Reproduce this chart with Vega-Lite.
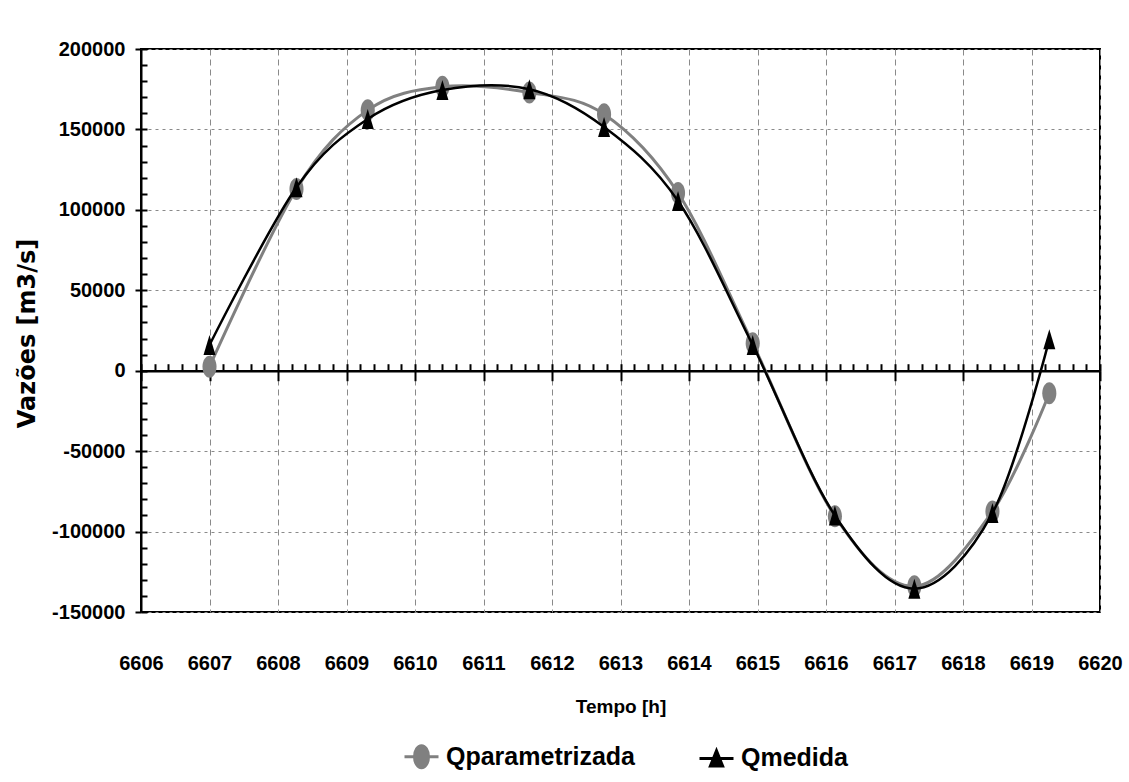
{
  "$schema": "https://vega.github.io/schema/vega-lite/v6.json",
  "width": 959,
  "height": 563,
  "autosize": {"type": "none"},
  "padding": {"left": 141, "top": 49, "right": 29, "bottom": 170},
  "background": "white",
  "config": {
    "view": {"stroke": "black", "strokeWidth": 2},
    "font": "Liberation Sans",
    "axis": {"labelColor": "black", "titleColor": "black"}
  },
  "data": {
    "values": [
      {"t": 6607.00, "q": 2500, "serie": "Qparametrizada"},
      {"t": 6608.27, "q": 113000, "serie": "Qparametrizada"},
      {"t": 6609.31, "q": 162000, "serie": "Qparametrizada"},
      {"t": 6610.40, "q": 176500, "serie": "Qparametrizada"},
      {"t": 6611.67, "q": 173000, "serie": "Qparametrizada"},
      {"t": 6612.76, "q": 159500, "serie": "Qparametrizada"},
      {"t": 6613.84, "q": 110500, "serie": "Qparametrizada"},
      {"t": 6614.93, "q": 17000, "serie": "Qparametrizada"},
      {"t": 6616.13, "q": -90500, "serie": "Qparametrizada"},
      {"t": 6617.29, "q": -134000, "serie": "Qparametrizada"},
      {"t": 6618.43, "q": -87500, "serie": "Qparametrizada"},
      {"t": 6619.26, "q": -14000, "serie": "Qparametrizada"},
      {"t": 6607.00, "q": 16000, "serie": "Qmedida"},
      {"t": 6608.27, "q": 114000, "serie": "Qmedida"},
      {"t": 6609.31, "q": 156500, "serie": "Qmedida"},
      {"t": 6610.40, "q": 174500, "serie": "Qmedida"},
      {"t": 6611.67, "q": 175000, "serie": "Qmedida"},
      {"t": 6612.76, "q": 151500, "serie": "Qmedida"},
      {"t": 6613.84, "q": 105500, "serie": "Qmedida"},
      {"t": 6614.93, "q": 16000, "serie": "Qmedida"},
      {"t": 6616.13, "q": -90000, "serie": "Qmedida"},
      {"t": 6617.29, "q": -135500, "serie": "Qmedida"},
      {"t": 6618.43, "q": -88500, "serie": "Qmedida"},
      {"t": 6619.26, "q": 19500, "serie": "Qmedida"}
    ]
  },
  "resolve": {"axis": {"x": "independent", "y": "independent"}},
  "layer": [
    {
      "transform": [{"filter": "datum.serie === 'Qparametrizada'"}],
      "mark": {"type": "line", "interpolate": "cardinal", "tension": 0, "strokeWidth": 3},
      "encoding": {
        "x": {
          "field": "t", "type": "quantitative",
          "scale": {"domain": [6606, 6620], "nice": false, "zero": false},
          "axis": {
            "orient": "bottom", "title": "Tempo [h]",
            "values": [6606, 6607, 6608, 6609, 6610, 6611, 6612, 6613, 6614, 6615, 6616, 6617, 6618, 6619, 6620],
            "labelExpr": "'' + datum.value", "ticks": false, "domain": false,
            "labelFont": "Liberation Sans", "labelFontWeight": "bold", "labelFontSize": 20,
            "labelPadding": 41, "labelFlush": false,
            "titleFont": "Liberation Sans", "titleFontWeight": "bold", "titleFontSize": 19,
            "titlePadding": 24,
            "grid": true, "gridColor": "#8a8a8a", "gridDash": [6, 4], "gridWidth": 1, "gridOpacity": 1
          }
        },
        "y": {
          "field": "q", "type": "quantitative",
          "scale": {"domain": [-150000, 200000], "nice": false, "zero": false},
          "axis": {
            "orient": "left", "title": "Vazões [m3/s]",
            "values": [-150000, -100000, -50000, 0, 50000, 100000, 150000, 200000],
            "labelExpr": "'' + datum.value",
            "domain": true, "domainColor": "black", "domainWidth": 2,
            "ticks": true, "tickSize": 6, "tickWidth": 2, "tickColor": "black",
            "labelFont": "Liberation Sans", "labelFontWeight": "bold", "labelFontSize": 20,
            "labelPadding": 10,
            "titleFont": "DejaVu Sans", "titleFontWeight": "bold", "titleFontSize": 24,
            "titleX": -114, "titleY": 284, "titleAngle": -90, "titleBaseline": "middle", "titleAlign": "center",
            "grid": true, "gridColor": "#8a8a8a", "gridDash": [3, 4], "gridWidth": 1, "gridOpacity": 1
          }
        },
        "color": {
          "field": "serie", "type": "nominal",
          "scale": {"domain": ["Qparametrizada", "Qmedida"], "range": ["#808080", "#000000"]},
          "legend": {
            "title": null, "orient": "none", "direction": "horizontal",
            "legendX": 262, "legendY": 689,
            "labelFont": "Liberation Sans", "labelFontWeight": "bold", "labelFontSize": 25,
            "labelColor": "black", "labelOffset": 6, "columnPadding": 58, "labelLimit": 0,
            "symbolSize": 1156, "symbolStrokeWidth": 3,
            "encode": {
              "symbols": {
                "update": {
                  "shape": {"signal": "datum.value === 'Qmedida' ? 'M-1,0L1,0M0,-0.45L0.36,0.45L-0.36,0.45Z' : 'M-1,0L1,0M0.41,0A0.41,0.65 0 1 1 -0.41,0A0.41,0.65 0 1 1 0.41,0Z'"},
                  "fill": {"signal": "datum.value === 'Qmedida' ? '#000000' : '#808080'"},
                  "stroke": {"signal": "datum.value === 'Qmedida' ? '#000000' : '#808080'"},
                  "strokeWidth": {"value": 3},
                  "opacity": {"value": 1},
                  "fillOpacity": {"value": 1}
                }
              }
            }
          }
        }
      }
    },
    {
      "transform": [{"filter": "datum.serie === 'Qparametrizada'"}],
      "mark": {"type": "point", "filled": true, "opacity": 1, "color": "#808080", "size": 484,
               "shape": "M0.64,0A0.64,1 0 1 1 -0.64,0A0.64,1 0 1 1 0.64,0Z"},
      "encoding": {
        "x": {
          "field": "t", "type": "quantitative",
          "scale": {"domain": [6606, 6620], "nice": false, "zero": false},
          "axis": {
            "orient": "bottom", "offset": -241.29,
            "values": [6606, 6607, 6608, 6609, 6610, 6611, 6612, 6613, 6614, 6615, 6616, 6617, 6618, 6619, 6620],
            "labels": false, "title": null, "grid": false,
            "domain": true, "domainColor": "black", "domainWidth": 2.5,
            "ticks": true, "tickSize": 10, "tickWidth": 2, "tickColor": "black"
          }
        },
        "y": {
          "field": "q", "type": "quantitative",
          "scale": {"domain": [-150000, 200000], "nice": false, "zero": false},
          "axis": {
            "orient": "left",
            "values": [-150000, -140000, -130000, -120000, -110000, -100000, -90000, -80000, -70000, -60000, -50000, -40000, -30000, -20000, -10000, 0, 10000, 20000, 30000, 40000, 50000, 60000, 70000, 80000, 90000, 100000, 110000, 120000, 130000, 140000, 150000, 160000, 170000, 180000, 190000, 200000],
            "labels": false, "title": null, "grid": false, "domain": false,
            "ticks": true, "tickSize": -6, "tickWidth": 2, "tickColor": "black"
          }
        }
      }
    },
    {
      "transform": [{"filter": "datum.serie === 'Qmedida'"}],
      "mark": {"type": "line", "interpolate": "cardinal", "tension": 0, "strokeWidth": 2.5},
      "encoding": {
        "x": {
          "field": "t", "type": "quantitative",
          "scale": {"domain": [6606, 6620], "nice": false, "zero": false},
          "axis": {
            "orient": "bottom", "offset": -241.29,
            "values": [6606, 6606.2, 6606.4, 6606.6, 6606.8, 6607, 6607.2, 6607.4, 6607.6, 6607.8, 6608, 6608.2, 6608.4, 6608.6, 6608.8, 6609, 6609.2, 6609.4, 6609.6, 6609.8, 6610, 6610.2, 6610.4, 6610.6, 6610.8, 6611, 6611.2, 6611.4, 6611.6, 6611.8, 6612, 6612.2, 6612.4, 6612.6, 6612.8, 6613, 6613.2, 6613.4, 6613.6, 6613.8, 6614, 6614.2, 6614.4, 6614.6, 6614.8, 6615, 6615.2, 6615.4, 6615.6, 6615.8, 6616, 6616.2, 6616.4, 6616.6, 6616.8, 6617, 6617.2, 6617.4, 6617.6, 6617.8, 6618, 6618.2, 6618.4, 6618.6, 6618.8, 6619, 6619.2, 6619.4, 6619.6, 6619.8, 6620],
            "labels": false, "title": null, "grid": false, "domain": false,
            "ticks": true, "tickSize": -7, "tickWidth": 2, "tickColor": "black"
          }
        },
        "y": {
          "field": "q", "type": "quantitative",
          "scale": {"domain": [-150000, 200000], "nice": false, "zero": false},
          "axis": null
        },
        "color": {
          "field": "serie", "type": "nominal",
          "scale": {"domain": ["Qparametrizada", "Qmedida"], "range": ["#808080", "#000000"]}
        }
      }
    },
    {
      "transform": [{"filter": "datum.serie === 'Qmedida'"}],
      "mark": {"type": "point", "filled": true, "opacity": 1, "color": "#000000", "size": 400,
               "shape": "M0,-1L0.6,1L-0.6,1Z"},
      "encoding": {
        "x": {
          "field": "t", "type": "quantitative",
          "scale": {"domain": [6606, 6620], "nice": false, "zero": false},
          "axis": null
        },
        "y": {
          "field": "q", "type": "quantitative",
          "scale": {"domain": [-150000, 200000], "nice": false, "zero": false},
          "axis": null
        }
      }
    }
  ]
}
